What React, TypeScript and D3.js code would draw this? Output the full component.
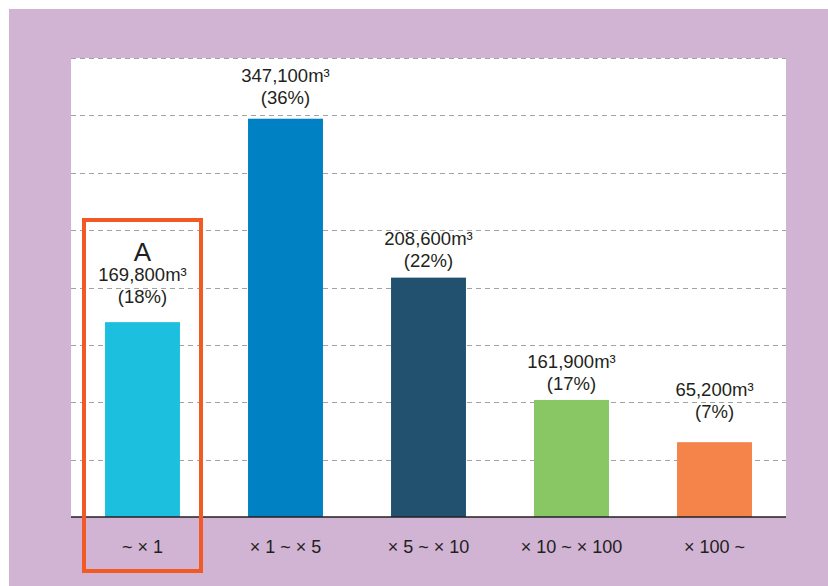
import React from 'react';
import * as d3 from 'd3';

// categories (rate of increase) and the values printed over each bar
const categories = ['~ × 1', '× 1 ~ × 5', '× 5 ~ × 10', '× 10 ~ × 100', '× 100 ~'];
const volumeLabels = ['169,800', '347,100', '208,600', '161,900', '65,200'];
const shareLabels = ['18%', '36%', '22%', '17%', '7%'];
// bar heights as drawn in the picture (the 4th bar is drawn shorter than its label says)
const barVolumes = [169800, 347100, 208600, 102000, 65200];
const gridTicks = [50000, 100000, 150000, 200000, 250000, 300000, 350000, 400000];

const colors = ['#1dbfdf', '#0081c4', '#22506f', '#89c765', '#f4844a'];

export default function App() {
    const W = 828;
    const H = 586;
    const plot = { left: 71, right: 786, top: 58, bottom: 517 };
    const font = '"Liberation Sans", Arial, Helvetica, sans-serif';
    const ink = '#231f20';

    const x = d3
        .scaleBand<string>()
        .domain(categories)
        .range([plot.left, plot.right])
        .paddingInner(0.476)
        .paddingOuter(0.238);

    const y = d3.scaleLinear().domain([0, 400000]).range([plot.bottom, plot.top]);

    // gap between the second label line and the bar top (labels were placed by hand)
    const labelGap = [19, 15, 11, 10, 24];

    const hl = x(categories[0])! + x.bandwidth() / 2;

    return (
        <div style={{ position: 'fixed', left: 0, top: 0 }}>
            <svg width={W} height={H} style={{ display: 'block' }}>
                <rect x={0} y={0} width={W} height={H} fill="#fff" />
                <rect x={9} y={9} width={W - 9} height={H - 9} fill="#d1b3d4" />
                <rect
                    x={plot.left}
                    y={plot.top}
                    width={plot.right - plot.left}
                    height={plot.bottom - plot.top}
                    fill="#fff"
                />

                {/* dashed grid */}
                {gridTicks.map((t) => (
                    <line
                        key={t}
                        x1={plot.left}
                        x2={plot.right}
                        y1={Math.round(y(t)) + 0.5}
                        y2={Math.round(y(t)) + 0.5}
                        stroke="#a3a3a3"
                        strokeWidth={1}
                        strokeDasharray="5,4"
                    />
                ))}

                {/* bars */}
                {categories.map((c, i) => (
                    <rect
                        key={c}
                        x={x(c)}
                        y={y(barVolumes[i])}
                        width={x.bandwidth()}
                        height={plot.bottom - y(barVolumes[i])}
                        fill={colors[i]}
                    />
                ))}

                {/* value labels */}
                {categories.map((c, i) => {
                    const cx = x(c)! + x.bandwidth() / 2;
                    const b2 = y(barVolumes[i]) - labelGap[i];
                    return (
                        <g key={c} fontFamily={font} fontSize={18.5} fill={ink} textAnchor="middle">
                            <text x={cx} y={b2 - 22}>
                                {volumeLabels[i]}m³
                            </text>
                            <text x={cx} y={b2}>
                                ({shareLabels[i]})
                            </text>
                        </g>
                    );
                })}

                {/* baseline */}
                <line x1={plot.left} x2={plot.right} y1={plot.bottom} y2={plot.bottom} stroke={ink} strokeWidth={1.6} />

                {/* category labels */}
                {categories.map((c) => (
                    <text
                        key={c}
                        x={x(c)! + x.bandwidth() / 2}
                        y={553}
                        textAnchor="middle"
                        fontFamily={font}
                        fontSize={18}
                        fill={ink}
                    >
                        {c}
                    </text>
                ))}

                {/* highlight box around the first category */}
                <text x={hl} y={261} textAnchor="middle" fontFamily={font} fontSize={26} fill={ink}>
                    A
                </text>
                <rect x={hl - 58.5} y={220} width={117} height={351} fill="none" stroke="#f15a24" strokeWidth={4} />
            </svg>
        </div>
    );
}
